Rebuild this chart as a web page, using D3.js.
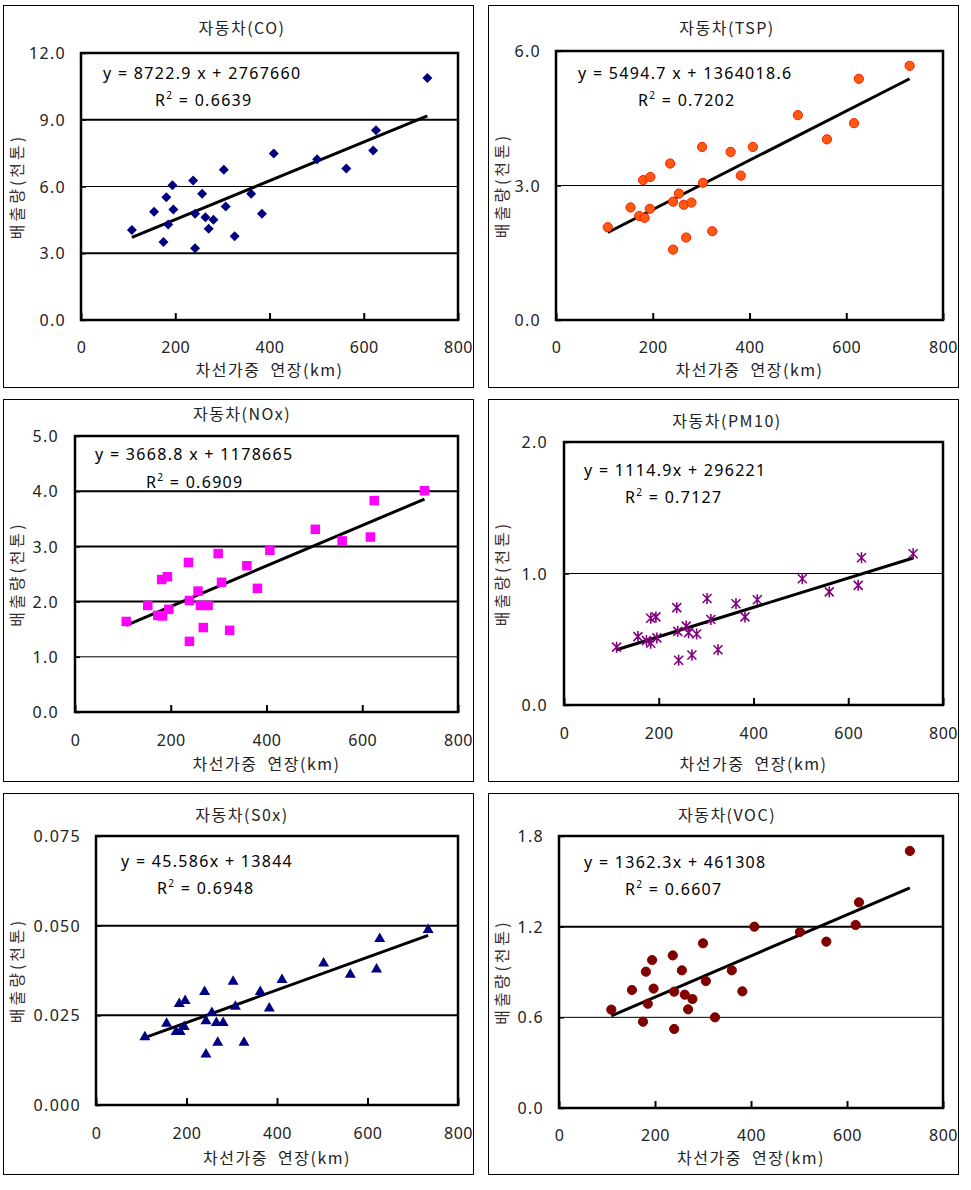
<!DOCTYPE html>
<html><head><meta charset="utf-8">
<script src="https://cdn.jsdelivr.net/npm/d3@7"></script>
<style>
body{margin:0;background:#fff;}
svg text{font-family:"Noto Sans CJK KR","Noto Sans",sans-serif;}
</style></head><body>
<svg id="c" width="971" height="1190"></svg>
<script>
// ---------------- DATA ----------------
const xTicks = [0, 200, 400, 600, 800];
const xTitle = "차선가중  연장(km)";
const yTitle = "배출량(천톤)";

// CO
const coTitle = "자동차(CO)";
const coX = [108,155,181,185,175,194,196,238,242,242,257,264,271,281,303,307,326,361,384,409,501,563,620,626,735];
const coY = [4.04,4.86,5.52,4.29,3.50,6.06,4.97,6.27,4.77,3.22,5.67,4.62,4.10,4.50,6.75,5.10,3.76,5.67,4.77,7.48,7.23,6.81,7.62,8.53,10.88];
const coTicks = [0, 3, 6, 9, 12];
const coTickLabels = ["0.0","3.0","6.0","9.0","12.0"];
const coFit = [8722.9, 2767660];
const coEq = "y = 8722.9 x + 2767660";
const coR2 = "0.6639";

// TSP
const tspTitle = "자동차(TSP)";
const tspX = [107,154,172,180,183,194,195,236,242,242,254,264,269,280,302,304,323,361,382,407,500,560,616,626,731];
const tspY = [2.07,2.51,2.32,3.12,2.28,2.48,3.19,3.49,2.64,1.57,2.82,2.57,1.84,2.62,3.86,3.06,1.98,3.75,3.22,3.86,4.57,4.03,4.39,5.38,5.67];
const tspTicks = [0, 3, 6];
const tspTickLabels = ["0.0","3.0","6.0"];
const tspFit = [5494.7, 1364018.6];
const tspEq = "y = 5494.7 x + 1364018.6";
const tspR2 = "0.7202";

// NOx
const noxTitle = "자동차(NOx)";
const noxX = [107,152,173,183,181,193,196,237,239,239,257,262,268,278,299,306,323,359,381,407,502,558,617,625,730];
const noxY = [1.64,1.93,1.75,1.74,2.40,2.45,1.86,2.71,2.02,1.28,2.19,1.93,1.53,1.93,2.87,2.35,1.48,2.65,2.24,2.93,3.31,3.10,3.17,3.83,4.01];
const noxTicks = [0, 1, 2, 3, 4, 5];
const noxTickLabels = ["0.0","1.0","2.0","3.0","4.0","5.0"];
const noxFit = [3668.8, 1178665];
const noxEq = "y = 3668.8 x + 1178665";
const noxR2 = "0.6909";

// PM10
const pmTitle = "자동차(PM10)";
const pmX = [111,156,174,183,183,194,196,238,240,242,258,263,270,280,302,310,325,363,382,408,503,560,621,628,737];
const pmY = [0.44,0.52,0.49,0.47,0.66,0.67,0.51,0.74,0.56,0.34,0.60,0.55,0.38,0.54,0.81,0.65,0.42,0.77,0.67,0.80,0.96,0.86,0.91,1.12,1.15];
const pmTicks = [0, 1, 2];
const pmTickLabels = ["0.0","1.0","2.0"];
const pmFit = [1114.9, 296221];
const pmEq = "y = 1114.9x + 296221";
const pmR2 = "0.7127";

// SOx
const soxTitle = "자동차(S0x)";
const soxX = [108,156,177,184,186,197,195,240,243,243,256,266,269,281,303,308,327,363,383,411,503,562,620,627,734];
const soxY = [0.0193,0.0231,0.0208,0.0286,0.0208,0.0294,0.0222,0.0319,0.0238,0.0145,0.0261,0.0233,0.0178,0.0233,0.0348,0.0278,0.0178,0.0319,0.0273,0.0353,0.0399,0.0367,0.0382,0.0467,0.0492];
const soxTicks = [0, 0.025, 0.05, 0.075];
const soxTickLabels = ["0.000","0.025","0.050","0.075"];
const soxFit = [45.586, 13844];
const soxEq = "y = 45.586x + 13844";
const soxR2 = "0.6948";

// VOC
const vocTitle = "자동차(VOC)";
const vocX = [109,152,175,181,185,194,197,237,240,240,256,262,269,278,300,306,325,360,382,407,502,557,618,625,731];
const vocY = [0.651,0.781,0.571,0.902,0.690,0.979,0.790,1.010,0.770,0.523,0.911,0.750,0.653,0.721,1.090,0.840,0.600,0.911,0.772,1.200,1.165,1.101,1.211,1.361,1.701];
const vocTicks = [0, 0.6, 1.2, 1.8];
const vocTickLabels = ["0.0","0.6","1.2","1.8"];
const vocFit = [1362.3, 461308];
const vocEq = "y = 1362.3x + 461308";
const vocR2 = "0.6607";

// ---------------- LAYOUT ----------------
const panels = [
  {title:coTitle, xs:coX, ys:coY, ticks:coTicks, labels:coTickLabels, fit:coFit, eq:coEq, r2:coR2,
   box:[3,5,473,387], plot:[81,53,458,320], titleXY:[242,28], eqXY:[103,73], r2XY:[155,100],
   yLabRight:66, xLabY:347, xTitleY:370, yTitleX:17, marker:"diamond", fill:"#000080", stroke:"#000080",
   gridW:{3:2,6:1,9:2}},
  {title:tspTitle, xs:tspX, ys:tspY, ticks:tspTicks, labels:tspTickLabels, fit:tspFit, eq:tspEq, r2:tspR2,
   box:[488,5,958,387], plot:[556,51,943,320], titleXY:[727,28], eqXY:[578,73], r2XY:[638,100],
   yLabRight:541, xLabY:347, xTitleY:370, yTitleX:502, marker:"circle", fill:"#ff5a10", stroke:"#ff1a00",
   gridW:{3:1}},
  {title:noxTitle, xs:noxX, ys:noxY, ticks:noxTicks, labels:noxTickLabels, fit:noxFit, eq:noxEq, r2:noxR2,
   box:[3,399,473,781], plot:[75,436,458,712], titleXY:[242,414], eqXY:[95,454], r2XY:[146,482],
   yLabRight:59, xLabY:740, xTitleY:764, yTitleX:17, marker:"square", fill:"#ff00ff", stroke:"#ff00ff",
   gridW:{1:1,2:2,3:2,4:2}},
  {title:pmTitle, xs:pmX, ys:pmY, ticks:pmTicks, labels:pmTickLabels, fit:pmFit, eq:pmEq, r2:pmR2,
   box:[488,399,958,781], plot:[564,442,943,705], titleXY:[727,421], eqXY:[584,470], r2XY:[625,497],
   yLabRight:548, xLabY:733, xTitleY:764, yTitleX:502, marker:"asterisk", fill:"none", stroke:"#800080",
   gridW:{1:1}},
  {title:soxTitle, xs:soxX, ys:soxY, ticks:soxTicks, labels:soxTickLabels, fit:soxFit, eq:soxEq, r2:soxR2,
   box:[3,793,473,1174], plot:[96,836,458,1105], titleXY:[242,815], eqXY:[121,861], r2XY:[157,888],
   yLabRight:81, xLabY:1133, xTitleY:1158, yTitleX:17, marker:"triangle", fill:"#000080", stroke:"#000080",
   gridW:{0.025:2,0.05:2}},
  {title:vocTitle, xs:vocX, ys:vocY, ticks:vocTicks, labels:vocTickLabels, fit:vocFit, eq:vocEq, r2:vocR2,
   box:[488,793,958,1174], plot:[559,836,943,1108], titleXY:[727,815], eqXY:[584,862], r2XY:[625,889],
   yLabRight:544, xLabY:1135, xTitleY:1158, yTitleX:502, marker:"circle", fill:"#800000", stroke:"#800000",
   gridW:{0.6:1,1.2:2}}
];

const svg = d3.select("#c");
const TXT = "#222";

panels.forEach(p => {
  const g = svg.append("g");
  const [bx0,by0,bx1,by1] = p.box;
  g.append("rect").attr("x",bx0+0.5).attr("y",by0+0.5).attr("width",bx1-bx0).attr("height",by1-by0)
    .attr("fill","#fff").attr("stroke","#000").attr("stroke-width",1);

  const [l,t,r,b] = p.plot;
  const x = d3.scaleLinear().domain([0,800]).range([l,r]);
  const yMax = p.ticks[p.ticks.length-1];
  const y = d3.scaleLinear().domain([0,yMax]).range([b,t]);

  // gridlines
  p.ticks.filter(v => v>0 && v<yMax).forEach(v => {
    g.append("line").attr("x1",l).attr("x2",r).attr("y1",y(v)).attr("y2",y(v))
      .attr("stroke","#000").attr("stroke-width", p.gridW[v] || 1);
  });

  // x axis (inside ticks)
  const xAxis = d3.axisBottom(x).tickValues(xTicks).tickSizeInner(-7).tickSizeOuter(0).tickFormat(d3.format("d"));
  const xa = g.append("g").attr("transform",`translate(0,${b})`).call(xAxis);
  xa.select(".domain").remove();
  xa.selectAll("line").attr("stroke","#000").attr("stroke-width",2);
  xa.selectAll("text").attr("y", p.xLabY - b).attr("dy","0.35em")
    .attr("font-size",16).attr("fill",TXT).attr("letter-spacing","0.5px")
    .style("font-family","'Noto Sans','DejaVu Sans',sans-serif");

  // y axis (inside ticks)
  const yAxis = d3.axisLeft(y).tickValues(p.ticks).tickSizeInner(-5).tickSizeOuter(0)
    .tickFormat((d,i) => p.labels[i]);
  const ya = g.append("g").attr("transform",`translate(${l},0)`).call(yAxis);
  ya.select(".domain").remove();
  ya.selectAll("line").attr("stroke","#000").attr("stroke-width",1.5);
  ya.selectAll("text").attr("x", p.yLabRight - l).attr("dy","0.35em")
    .attr("font-size",16).attr("fill",TXT).attr("letter-spacing","1.3px")
    .style("font-family","'Noto Sans','DejaVu Sans',sans-serif");

  // plot border
  g.append("rect").attr("x",l).attr("y",t).attr("width",r-l).attr("height",b-t)
    .attr("fill","none").attr("stroke","#000").attr("stroke-width",2.5);

  // title
  g.append("text").attr("x",p.titleXY[0]).attr("y",p.titleXY[1]).attr("dy","0.35em")
    .attr("text-anchor","middle").attr("font-size",16).attr("fill",TXT).attr("letter-spacing","1.5px")
    .text(p.title);

  // axis titles
  g.append("text").attr("x",(l+r)/2).attr("y",p.xTitleY).attr("dy","0.35em")
    .attr("text-anchor","middle").attr("font-size",16).attr("fill",TXT).attr("letter-spacing","1.5px")
    .style("white-space","pre")
    .text(xTitle);
  g.append("text").attr("transform",`translate(${p.yTitleX},${(t+b)/2}) rotate(-90)`).attr("dy","0.35em")
    .attr("text-anchor","middle").attr("font-size",16).attr("fill","#3a2e2e").attr("letter-spacing","3px")
    .text(yTitle);

  // trendline
  const xMin = d3.min(p.xs), xMaxD = d3.max(p.xs);
  const f = v => (p.fit[0]*v + p.fit[1]) / 1e6;
  g.append("line").attr("x1",x(xMin)).attr("y1",y(f(xMin))).attr("x2",x(xMaxD)).attr("y2",y(f(xMaxD)))
    .attr("stroke","#000").attr("stroke-width",3).attr("stroke-linecap","butt");

  // markers
  const pts = p.xs.map((v,i)=>[v,p.ys[i]]);
  const mg = g.append("g");
  pts.forEach(([vx,vy]) => {
    const cx = x(vx), cy = y(vy);
    if (p.marker === "circle") {
      mg.append("circle").attr("cx",cx).attr("cy",cy).attr("r",4.6)
        .attr("fill",p.fill).attr("stroke",p.stroke).attr("stroke-width",1);
    } else if (p.marker === "diamond") {
      mg.append("path").attr("d", d3.symbol(d3.symbolSquare, 50)())
        .attr("transform",`translate(${cx},${cy}) rotate(45)`).attr("fill",p.fill);
    } else if (p.marker === "square") {
      mg.append("path").attr("d", d3.symbol(d3.symbolSquare, 90)())
        .attr("transform",`translate(${cx},${cy})`).attr("fill",p.fill);
    } else if (p.marker === "triangle") {
      mg.append("path").attr("d", "M0,-5 L5.5,4.5 L-5.5,4.5 Z")
        .attr("transform",`translate(${cx},${cy})`).attr("fill",p.fill);
    } else if (p.marker === "asterisk") {
      mg.append("path").attr("d","M0,-5.5 L0,5.5 M-4.5,-4.5 L4.5,4.5 M4.5,-4.5 L-4.5,4.5")
        .attr("transform",`translate(${cx},${cy})`).attr("fill","none")
        .attr("stroke",p.stroke).attr("stroke-width",1.6);
    }
  });

  // equation
  g.append("text").attr("x",p.eqXY[0]).attr("y",p.eqXY[1]).attr("dy","0.35em")
    .attr("font-size",16).attr("fill","#000").attr("letter-spacing","1.3px")
    .style("font-family","'Noto Sans','DejaVu Sans',sans-serif")
    .text(p.eq);
  const r2t = g.append("text").attr("x",p.r2XY[0]).attr("y",p.r2XY[1]).attr("dy","0.35em")
    .attr("font-size",16).attr("fill","#000").attr("letter-spacing","1.3px")
    .style("font-family","'Noto Sans','DejaVu Sans',sans-serif");
  r2t.append("tspan").text("R");
  r2t.append("tspan").attr("dy",-7).attr("font-size",10).text("2");
  r2t.append("tspan").attr("dy",7).text(" = " + p.r2);
});
</script>
</body></html>
